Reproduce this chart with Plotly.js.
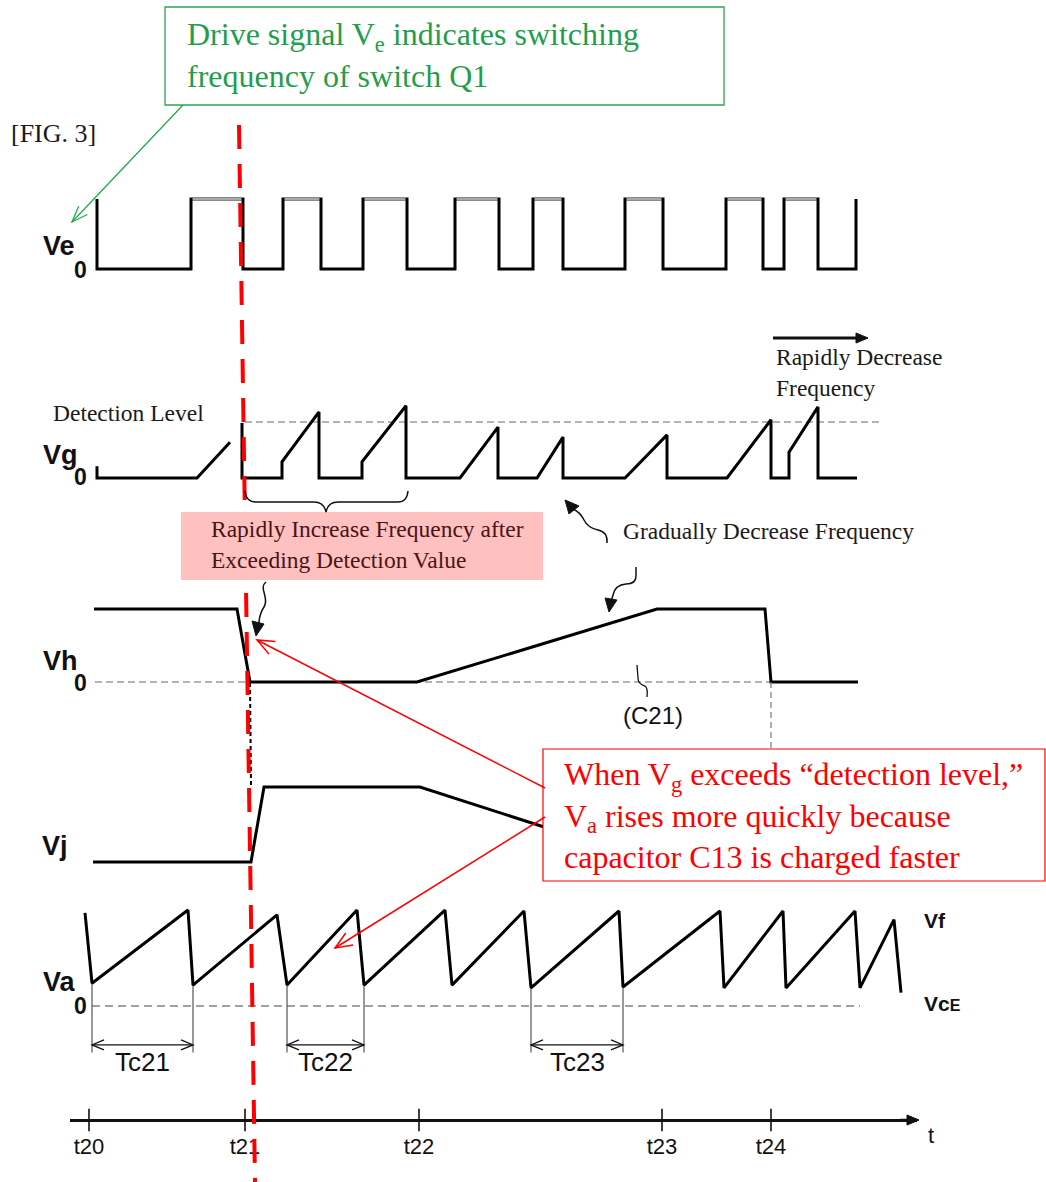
<!DOCTYPE html>
<html><head><meta charset="utf-8">
<script src="https://cdn.plot.ly/plotly-3.0.1.min.js"></script>
<style>html,body{margin:0;padding:0;background:#fff}#chart{width:1046px;height:1182px}</style>
</head><body><div id="chart"></div>
<script>
// ================= DATA (time in figure units) =================
// Drive signal Ve (1 = high, 0 = low)
const veTime  = [97,97,191,191,243,243,283,283,321,321,363,363,407,407,455,455,499,499,533,533,563,563,625,625,663,663,726,726,763,763,784,784,818,818,856,856];
const veLevel = [1,0,0,1,1,0,0,1,1,0,0,1,1,0,0,1,1,0,0,1,1,0,0,1,1,0,0,1,1,0,0,1,1,0,0,1];
// Vg (1 = detection level)
const vgTime  = [97,97,197,230,null,242,242,282,282,319,319,362,362,406,406,460,498,498,537,563,563,625,667,667,727,771,771,789,789,818,818,857];
const vgLevel = [0.21,0,0,0.64,null,0.98,0,0,0.29,1.18,0,0,0.29,1.29,0,0,0.91,0,0,0.73,0,0,0.77,0,0,1.04,0,0,0.46,1.27,0,0];
const vgDetectSpan = [245,882];
const vgDetectLevel = [1,1];
// Vh
const vhTime  = [94,237,250,417,657,765,771,858];
const vhLevel = [1,1,0,0,1,1,0,0];
const vhZeroSpan = [95,858];
// Vj
const vjTime  = [93,251,264,420,548];
const vjLevel = [0,0,1,1,0.45];
// Va
const vaTime  = [85,92,188,193,277,287,357,364,445,452,524,531,619,623,720,724,783,786,855,860,894,901];
const vaLevel = [0.98,0.24,1.01,0.22,0.96,0.22,1.01,0.22,1.01,0.22,1.0,0.19,1.0,0.2,1.0,0.19,1.0,0.19,1.0,0.19,0.91,0.14];
const vaZeroSpan = [92,860];
// Charge periods
const tcNames = ['Tc21','Tc22','Tc23'];
const tcStart = [92,287,531];
const tcEnd   = [193,364,623];
const tcMarkLevel = -0.41;
const tcDropLevel = -0.49;
// Time axis
const tickTimes  = [89,245,419,662,771];
const tickLabels = ['t20','t21','t22','t23','t24'];
const timeSpan   = [70,917];

// ================= LAYOUT HELPERS =================
const W = 1046, H = 1182;
const VA_ZERO = 1006, VA_UNIT = 95;
function panelAxis(zeroPx, unitPx, lo, hi){
  return {domain:[1-(zeroPx-lo*unitPx)/H, 1-(zeroPx-hi*unitPx)/H], range:[lo,hi],
          visible:false, anchor:'x', fixedrange:true};
}
const timeAxisPx = 1120;
const SERIF = 'Liberation Serif, Times New Roman, serif';
const SANS = 'Liberation Sans, Arial, sans-serif';

const traces = [];
const blk = {color:'#000', width:3};
// Ve
traces.push({x:veTime, y:veLevel, yaxis:'y', mode:'lines', line:blk});
const vtx=[], vty=[];
for(let i=0;i<veTime.length-1;i++){
  if(veLevel[i]===1 && veLevel[i+1]===1 && veTime[i]!==veTime[i+1]){vtx.push(veTime[i]+1.5,veTime[i+1]-1.5,null); vty.push(1,1,null);}
}
traces.push({x:vtx, y:vty, yaxis:'y', mode:'lines', line:{color:'#a8a8a8', width:2.5}});
// Vg
traces.push({x:vgDetectSpan, y:vgDetectLevel, yaxis:'y2', mode:'lines', line:{color:'#9a9a9a', width:1.5, dash:'7px,4px'}});
traces.push({x:vgTime, y:vgLevel, yaxis:'y2', mode:'lines', line:blk, connectgaps:false});
// Vh
traces.push({x:vhZeroSpan, y:[0,0], yaxis:'y3', mode:'lines', line:{color:'#9a9a9a', width:1.5, dash:'7px,4px'}});
traces.push({x:vhTime, y:vhLevel, yaxis:'y3', mode:'lines', line:blk});
// Vj
traces.push({x:vjTime, y:vjLevel, yaxis:'y4', mode:'lines', line:blk});
// Va
traces.push({x:vaZeroSpan, y:[0,0], yaxis:'y5', mode:'lines', line:{color:'#444', width:1.2, dash:'8px,5px'}});
const tcx=[], tcy=[];
tcStart.forEach((s,i)=>{
  const e=tcEnd[i];
  [s,e].forEach(t=>{ const k=vaTime.indexOf(t); tcx.push(t,t,null); tcy.push(vaLevel[k],tcDropLevel,null); });
});
traces.push({x:tcx, y:tcy, yaxis:'y5', mode:'lines', line:{color:'#555', width:1.2}});
traces.push({x:tcStart.map((s,i)=>[s,tcEnd[i],null]).flat(), y:tcStart.map(()=>[tcMarkLevel,tcMarkLevel,null]).flat(),
  yaxis:'y5', mode:'lines', line:{color:'#111', width:1.3}});
traces.push({x:vaTime, y:vaLevel, yaxis:'y5', mode:'lines', line:blk});
// time axis cross ticks
traces.push({x:tickTimes, y:tickTimes.map(()=>timeAxisPx), xaxis:'x2', yaxis:'y6', mode:'markers',
  marker:{symbol:'line-ns', size:16, line:{color:'#000', width:1.5}}, cliponaxis:false});
// connectors between panels (pixel overlay)
traces.push({x:[250,251], y:[683,786], yaxis:'y6', mode:'lines', line:{color:'#000', width:2, dash:'4px,3px'}});
traces.push({x:[771,771], y:[682,749], yaxis:'y6', mode:'lines', line:{color:'#777', width:1.2, dash:'6px,4px'}});
traces.forEach(t=>{t.hoverinfo='skip'; t.showlegend=false;});

// ================= SHAPES =================
const P = {xref:'x', yref:'y6', layer:'above'};
const shapes = [
  Object.assign({type:'line', x0:239, y0:125, x1:255, y1:1182, line:{color:'#ff0000', width:4, dash:'24px,15px'}}, P),
  Object.assign({type:'rect', x0:181, y0:512, x1:543, y1:580, fillcolor:'#ffc0c0', line:{width:0}}, P),
  Object.assign({type:'rect', x0:165, y0:7, x1:724, y1:105, fillcolor:'#fff', line:{color:'#2aa54f', width:1.3}}, P),
  Object.assign({type:'rect', x0:543, y0:749, x1:1045, y1:881, fillcolor:'#fff', line:{color:'#ff0000', width:1.2}}, P),
  Object.assign({type:'path', path:'M 245 491 Q 246 502 256 502 L 314 502 Q 324 502 326 512 Q 328 502 338 502 L 398 502 Q 407 502 408 491', line:{color:'#111', width:1.5}}, P),
  Object.assign({type:'path', path:'M 266 582 C 258 588, 270 598, 264 607 S 260 620, 258 628', line:{color:'#111', width:1.5}}, P),
  Object.assign({type:'path', path:'M 252 621 L 264 624 L 256 636 Z', fillcolor:'#111', line:{color:'#111', width:1}}, P),
  Object.assign({type:'path', path:'M 636 567 L 636 576 Q 636 584 626 584 Q 615 585 613 595 L 611 602', line:{color:'#111', width:1.5}}, P),
  Object.assign({type:'path', path:'M 605 598 L 617 600 L 609 612 Z', fillcolor:'#111', line:{color:'#111', width:1}}, P),
  Object.assign({type:'path', path:'M 607 543 Q 608 532 598 530 Q 588 528 584 520 Q 580 512 573 509', line:{color:'#111', width:1.5}}, P),
  Object.assign({type:'path', path:'M 565 500 L 579 506 L 569 514 Z', fillcolor:'#111', line:{color:'#111', width:1}}, P),
  Object.assign({type:'path', path:'M 637 665 L 638 678 Q 638 684 645 686 Q 648 688 647 697', line:{color:'#111', width:1.3}}, P)
];
// arrows drawn as shapes (line + head)
function arrowShape(hx,hy,tx,ty,color,width,len,half,filled,withLine){
  const dx=hx-tx, dy=hy-ty, L=Math.hypot(dx,dy), ux=dx/L, uy=dy/L, px=-uy, py=ux;
  const bx=hx-ux*len, by=hy-uy*len;
  const b1=[bx+px*half, by+py*half], b2=[bx-px*half, by-py*half];
  if(withLine!==false){
    const ex = filled ? bx+ux*2 : hx, ey = filled ? by+uy*2 : hy;
    shapes.push(Object.assign({type:'line', x0:tx, y0:ty, x1:ex, y1:ey, line:{color:color, width:width}}, P));
  }
  if(filled){
    shapes.push(Object.assign({type:'path', path:`M ${b1[0]} ${b1[1]} L ${hx} ${hy} L ${b2[0]} ${b2[1]} Z`, fillcolor:color, line:{color:color, width:1}}, P));
  } else {
    shapes.push(Object.assign({type:'path', path:`M ${b1[0]} ${b1[1]} L ${hx} ${hy} L ${b2[0]} ${b2[1]}`, line:{color:color, width:width}}, P));
  }
}
arrowShape(72,222,183,105,'#1fae4f',1.3,16,6,false);
arrowShape(257,640,545,788,'#ff0000',1.5,17,7,false);
arrowShape(335,948,545,817,'#ff0000',1.5,17,7,false);
arrowShape(868,338,773,338,'#111',3,12,5,true);
arrowShape(919,1120,900,1120,'#111',2.5,12,5,true);
tcStart.forEach((s,i)=>{
  const yPx = VA_ZERO - tcMarkLevel*VA_UNIT;
  arrowShape(tcEnd[i], yPx, s, yPx, '#111', 1.3, 12, 5, false, false);
  arrowShape(s, yPx, tcEnd[i], yPx, '#111', 1.3, 12, 5, false, false);
});

// ================= ANNOTATIONS =================
const ann = [];
function txt(x,y,text,font,xanchor){ ann.push({x:x, y:y, xref:'x', yref:'y6', text:text, showarrow:false, xanchor:xanchor||'left', yanchor:'middle', align:'left', font:font}); }
const fs = {family:SERIF, size:23.5, color:'#1a1a1a'};
txt(9,133,'[FIG. 3]', {family:SERIF, size:26, color:'#1a1a1a'});
const green = {family:SERIF, size:32, color:'#1f9e4c'};
txt(185,55,'Drive signal V<sub>e</sub> indicates switching<br>frequency of switch Q1', green);
txt(51,413,'Detection Level', fs);
txt(774,372,'Rapidly Decrease<br>Frequency', {family:SERIF, size:23.5, color:'#1a1a1a'});
const pinkTxt = {family:SERIF, size:23.5, color:'#4a1414'};
txt(209,544,'Rapidly Increase Frequency after<br>Exceeding Detection Value', pinkTxt);
txt(621,531,'Gradually Decrease Frequency', fs);
const red = {family:SERIF, size:32, color:'#ff0000'};
txt(562,815,'When V<sub>g</sub> exceeds \u201cdetection level,\u201d<br>V<sub>a</sub> rises more quickly because<br>capacitor C13 is charged faster', red);
const lab = {family:SANS, size:27, color:'#111'};
const zero = {family:SANS, size:23, color:'#111'};
[['Ve',246,270],['Vg',455,477],['Vh',661,683],['Va',982,1006]].forEach(([n,y1,y2])=>{
  txt(41,y1,'<b>'+n+'</b>',lab); txt(72,y2,'<b>0</b>',zero);
});
txt(40,846,'<b>Vj</b>',lab);
const sm = {family:SANS, size:21, color:'#111'};
txt(922,920,'<b>Vf</b>',sm);
txt(922,1003,'<b>Vc</b><span style="font-size:16px"><b>E</b></span>',sm);
txt(653,715,'(C21)',{family:SANS, size:24, color:'#111'},'center');
txt(926,1135,'t',{family:SANS, size:22, color:'#111'});
tcNames.forEach((n,i)=>{
  ann.push({x:(tcStart[i]+tcEnd[i])/2, y:tcMarkLevel-0.18, xref:'x', yref:'y5', text:n, showarrow:false, yanchor:'middle',
    font:{family:SANS, size:26, color:'#111'}});
});

const layout = {
  width:W, height:H, margin:{l:0,r:0,t:0,b:0}, paper_bgcolor:'#fff', plot_bgcolor:'rgba(0,0,0,0)',
  showlegend:false, dragmode:false,
  xaxis:{domain:[0,1], range:[0,W], visible:false, fixedrange:true},
  yaxis: panelAxis(269,70,-0.3,1.3),
  yaxis2:panelAxis(478,56,-0.4,1.6),
  yaxis3:panelAxis(682,73,-0.3,1.3),
  yaxis4:panelAxis(862,75,-0.3,1.3),
  yaxis5:panelAxis(VA_ZERO,VA_UNIT,-0.7,1.3),
  yaxis6:{domain:[0,1], range:[H,0], visible:false, anchor:'x', fixedrange:true},
  xaxis2:{domain:[timeSpan[0]/W, timeSpan[1]/W], range:timeSpan, anchor:'free', position:1-timeAxisPx/H,
    showline:true, linewidth:2.5, linecolor:'#111', showgrid:false, zeroline:false,
    tickmode:'array', tickvals:tickTimes, ticktext:tickLabels, ticks:'outside', ticklen:6, tickcolor:'rgba(0,0,0,0)',
    tickfont:{family:SANS, size:22, color:'#111'}, fixedrange:true},
  shapes:shapes, annotations:ann
};
Plotly.newPlot('chart', traces, layout, {displayModeBar:false, staticPlot:true});
</script></body></html>
